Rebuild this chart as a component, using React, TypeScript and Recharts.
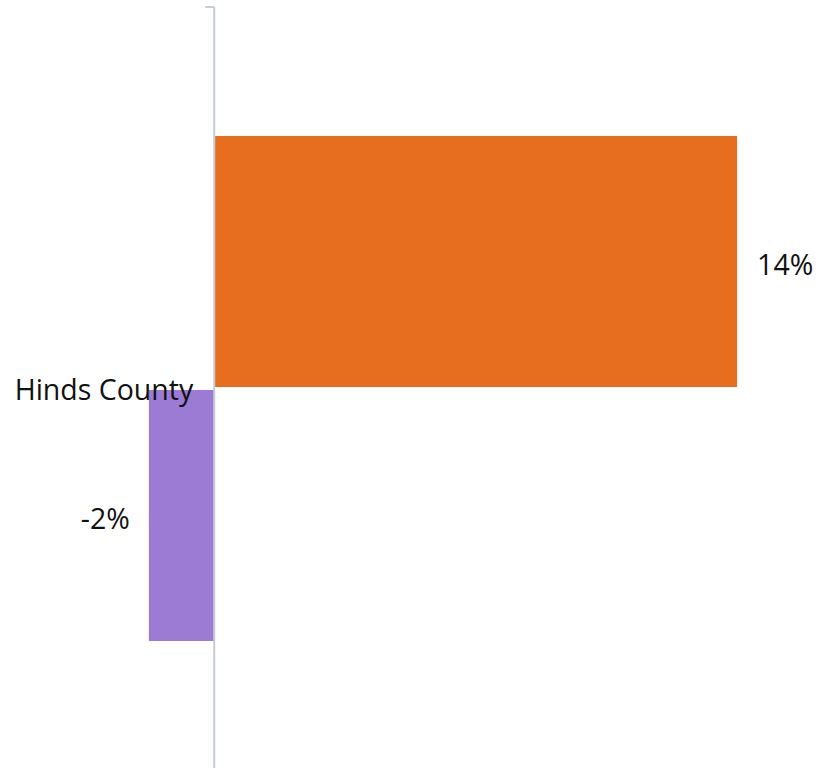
import React from 'react';
import { BarChart, Bar, XAxis, YAxis, ReferenceLine, LabelList } from 'recharts';

const categories = ['Hinds County'];
const seriesA = [14.4];
const seriesB = [-1.8];

const data = categories.map((name, i) => ({ name, a: seriesA[i], b: seriesB[i] }));

const FONT = '"Open Sans", "Noto Sans", sans-serif';
const pct = (v: number) => `${Math.round(v)}%`;

// axis line through zero, plus the small tick at the top of the category band
const AxisShape = (props: any) => {
  const { x1, y1, x2, y2 } = props;
  const top = Math.min(y1, y2);
  return (
    <g>
      <line x1={x1} y1={y1} x2={x2} y2={y2} stroke="#c6cdd6" strokeWidth={2} />
      <line x1={x1 - 9} y1={top} x2={x1} y2={top} stroke="#c6cdd6" strokeWidth={2} />
    </g>
  );
};

const App: React.FC = () => {
  return (
    <div style={{ width: 817, height: 768, overflow: 'hidden', background: '#fff' }}>
      <style>{'body{margin:0;overflow:hidden}'}</style>
      <BarChart
        width={817}
        height={778}
        data={data}
        layout="vertical"
        margin={{ top: 7, right: 0, bottom: 8, left: 0 }}
        barCategoryGap={129}
        barGap={3}
      >
        <XAxis type="number" domain={[-5.9, 16.6]} hide />
        <YAxis type="category" dataKey="name" hide width={0} />
        <Bar dataKey="a" fill="#e86e1f" isAnimationActive={false}>
          <LabelList dataKey="a" position="right" offset={20} dy={3} formatter={pct} fill="#111" fontSize={28.5} fontFamily={FONT} />
        </Bar>
        <Bar dataKey="b" fill="#9b7bd4" isAnimationActive={false}>
          <LabelList dataKey="b" position="right" offset={19} dy={3} formatter={pct} fill="#111" fontSize={28.5} fontFamily={FONT} />
        </Bar>
        <ReferenceLine
          x={0}
          shape={AxisShape}
          label={{ value: categories[0], position: 'left', offset: 21, dy: 1, fontSize: 28.5, fontFamily: FONT, fill: '#111' }}
        />
      </BarChart>
    </div>
  );
};

export default App;
